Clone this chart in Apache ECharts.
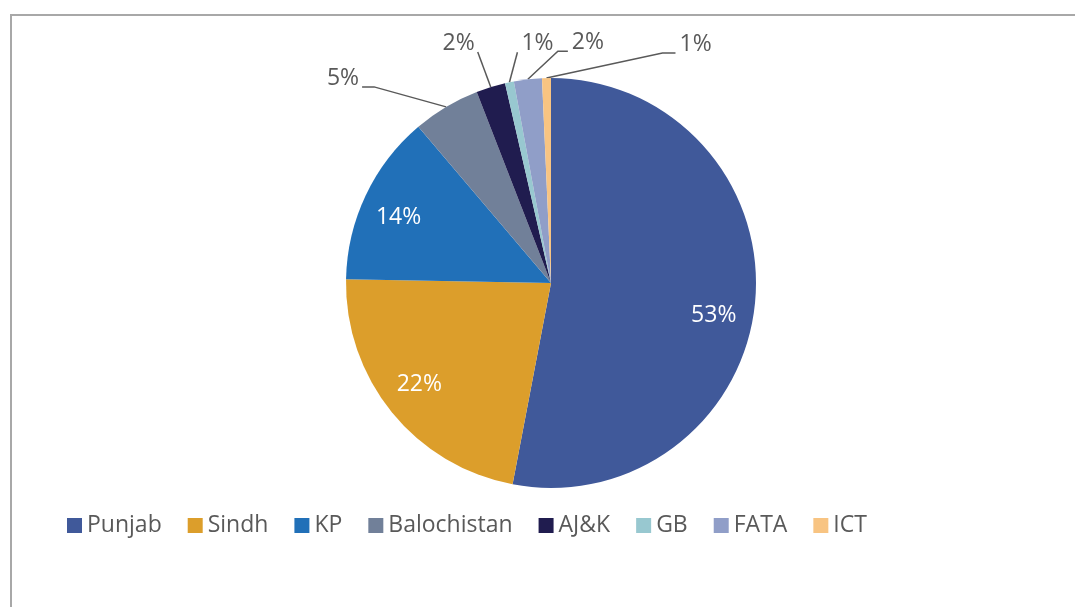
<!DOCTYPE html>
<html>
<head>
<meta charset="utf-8">
<script src="https://cdn.jsdelivr.net/npm/echarts@6/dist/echarts.min.js"></script>
<style>
  html, body { margin: 0; padding: 0; background: #fff; }
  #frame { position: absolute; left: 10px; top: 14px; width: 1065px; height: 593px;
           border-top: 2px solid #a8a8a8; border-left: 2px solid #a8a8a8; pointer-events: none; }
  #chart { position: absolute; left: 0; top: 0; width: 1075px; height: 607px; }
</style>
</head>
<body>
<div id="frame"></div>
<div id="chart"></div>
<script>
// share of each region (percent)
const regions = ['Punjab', 'Sindh', 'KP', 'Balochistan', 'AJ&K', 'GB', 'FATA', 'ICT'];
const shares = [53.0, 22.3, 13.5, 5.3, 2.3, 0.7, 2.2, 0.7];
const colors = ['#40599a', '#dc9e2b', '#2170b8', '#718099', '#201c4f', '#98c8d0', '#909ec8', '#f8c482'];

const CX = 551, CY = 283, R = 205;
const textGray = '#595959';

// inside labels: small angle nudge (degrees) like Excel's best fit
const insideNudge = [6, 1.5, -2];
// leader line shape for the small slices: [knee dx, knee dy, arm dx]
const leader = {
  3: [-72, -20, -12],
  4: [-13, -35, 0],
  5: [8, -30, 0],
  6: [30, -28, 10],
  7: [116, -25, 13]
};

const chart = echarts.init(document.getElementById('chart'));

const pieData = regions.map((name, i) => {
  const inside = i < 3;
  return {
    name: name,
    value: shares[i],
    itemStyle: { color: colors[i] },
    label: inside
      ? { position: 'inside', color: '#fff' }
      : { position: 'outside', color: textGray },
    labelLine: { show: !inside }
  };
});

chart.setOption({
  animation: false,
  textStyle: { fontFamily: 'Open Sans' },
  legend: {
    data: regions,
    left: 62,
    top: 509,
    icon: 'rect',
    itemWidth: 15,
    itemHeight: 15,
    itemGap: 26,
    textStyle: { fontSize: 23, color: textGray, fontFamily: 'Open Sans' }
  },
  series: [{
    type: 'pie',
    center: [CX, CY],
    radius: R,
    startAngle: 90,
    clockwise: true,
    percentPrecision: 0,
    label: {
      formatter: '{d}%',
      fontSize: 23,
      fontFamily: 'Open Sans'
    },
    labelLine: {
      lineStyle: { color: textGray, width: 1.5 }
    },
    labelLayout: function (p) {
      const i = p.dataIndex;
      if (i < 3) {
        // push inside labels out towards the rim
        const lx = p.labelRect.x + p.labelRect.width / 2;
        const ly = p.labelRect.y + p.labelRect.height / 2;
        const a = Math.atan2(ly - CY, lx - CX) + insideNudge[i] * Math.PI / 180;
        return {
          x: CX + 0.81 * R * Math.cos(a),
          y: CY + 0.81 * R * Math.sin(a),
          align: 'center',
          verticalAlign: 'middle'
        };
      }
      const s = leader[i];
      const p0 = p.labelLinePoints[0];
      const knee = [p0[0] + s[0], p0[1] + s[1]];
      const end = [knee[0] + s[2], knee[1]];
      const toRight = s[0] > 0;
      return {
        x: end[0] + (toRight ? 4 : -3),
        y: end[1] + 3,
        align: toRight ? 'left' : 'right',
        verticalAlign: 'bottom',
        labelLinePoints: [p0, knee, end]
      };
    },
    data: pieData
  }]
});
</script>
</body>
</html>
